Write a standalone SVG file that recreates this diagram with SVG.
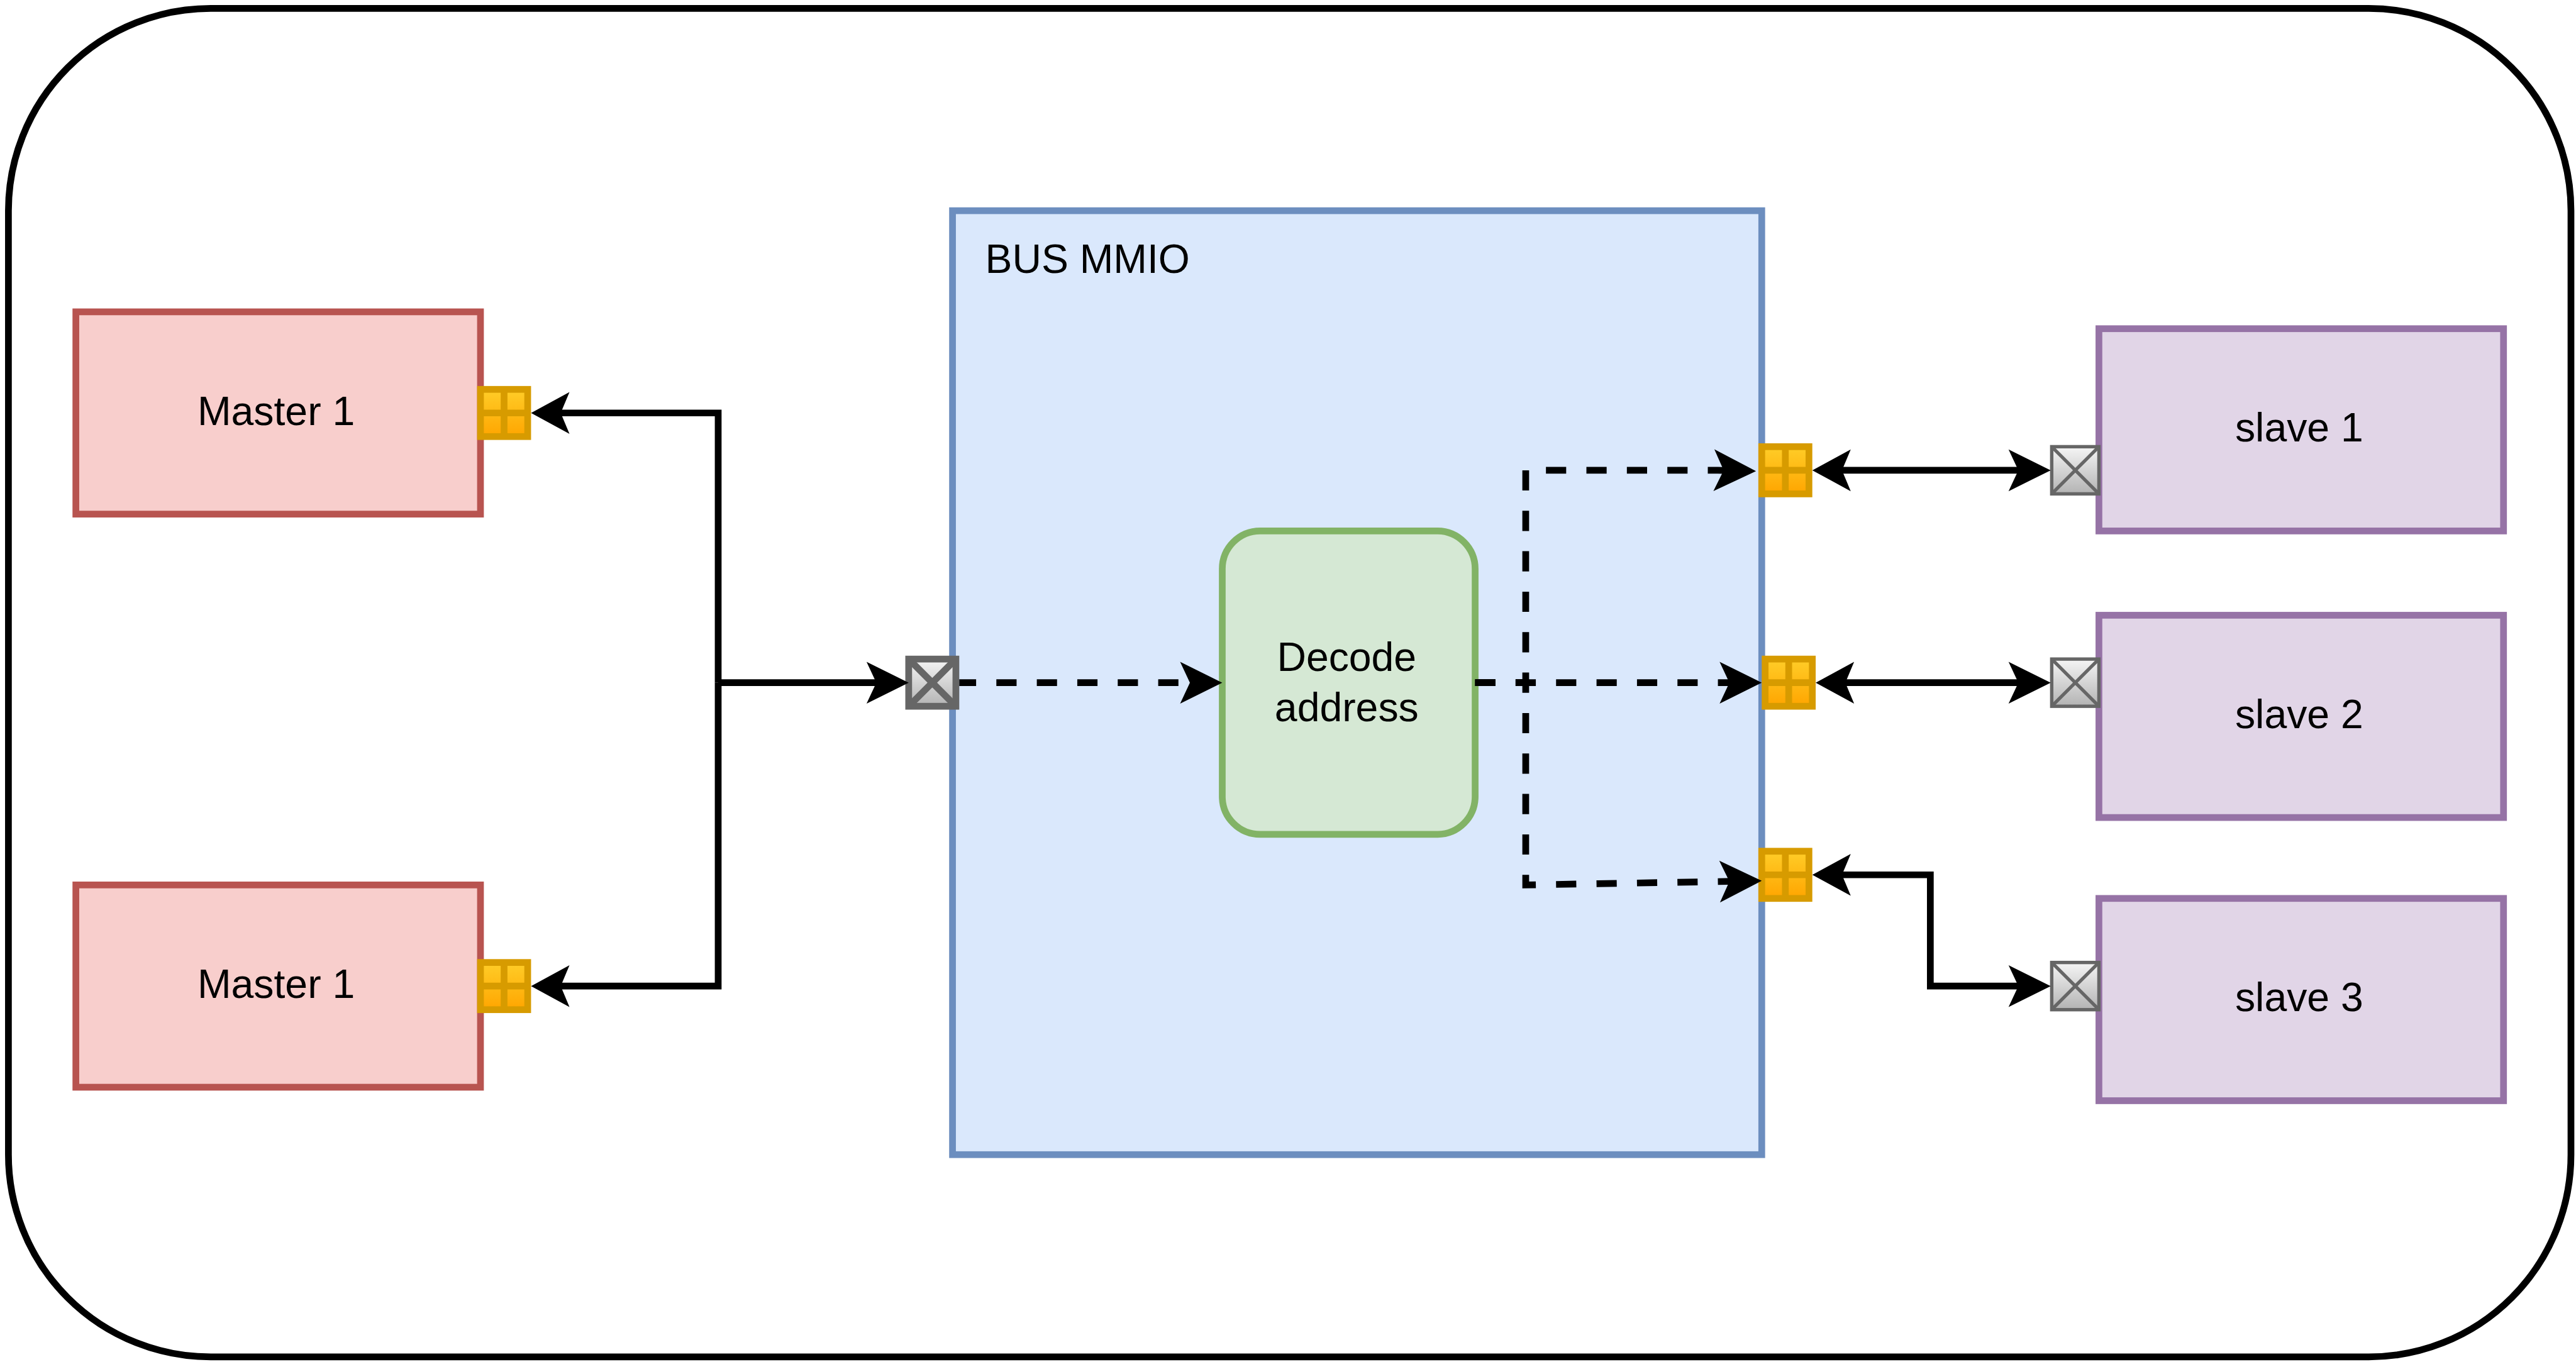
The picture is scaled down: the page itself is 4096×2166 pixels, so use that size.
<svg xmlns="http://www.w3.org/2000/svg" width="4096" height="2166" viewBox="0 0 4096 2166">
<style>
.outer{fill:#ffffff;stroke:#000000;stroke-width:20}
.master{fill:#f8cecc;stroke:#b85450;stroke-width:20}
.slave{fill:#e1d5e7;stroke:#9673a6;stroke-width:20}
.bus{fill:#dae8fc;stroke:#6c8ebf;stroke-width:20}
.decode{fill:#d5e8d4;stroke:#82b366;stroke-width:20}
.po{fill:url(#gradOrange);stroke:#d79b00;stroke-width:20}
.pol{fill:none;stroke:#d79b00;stroke-width:20}
.px{fill:url(#gradGrey);stroke:#666666}
.pxl{fill:none;stroke:#666666}
.w20{stroke-width:20}
.w10{stroke-width:10}
.conn{fill:none;stroke:#000000;stroke-width:20;stroke-linejoin:miter}
.dash{stroke-dasharray:60 60}
.ctr{text-anchor:middle}
text{font-family:"Liberation Sans",Arial,sans-serif;font-size:120px;fill:#000000}
</style>
<defs>
<linearGradient id="gradOrange" x1="0" y1="0" x2="0" y2="1"><stop offset="0" stop-color="#ffcd28"/><stop offset="1" stop-color="#ffa500"/></linearGradient>
<linearGradient id="gradGrey" x1="0" y1="0" x2="0" y2="1"><stop offset="0" stop-color="#f5f5f5"/><stop offset="1" stop-color="#b3b3b3"/></linearGradient>
<marker id="arrowLong" markerUnits="userSpaceOnUse" markerWidth="125" markerHeight="124" refX="55" refY="62" orient="auto-start-reverse" overflow="visible"><polygon points="0,0 125,62 0,124 29,62" fill="#000000"/></marker>
<marker id="arrowShort" markerUnits="userSpaceOnUse" markerWidth="114" markerHeight="124" refX="44" refY="62" orient="auto-start-reverse" overflow="visible"><polygon points="0,0 114,62 0,124 26,62" fill="#000000"/></marker>
<g id="portOrange"><rect class="po" x="0" y="0" width="140" height="140"/><path class="pol" d="M70,0V140M0,70H140"/></g>
<g id="portCross"><rect class="px" x="0" y="0" width="140" height="140"/><path class="pxl" d="M0,0L140,140M140,0L0,140"/></g>
</defs>
<rect x="0" y="0" width="4096" height="2166" fill="#ffffff"/>
<g transform="scale(0.53613)">
<g id="frame"><rect class="outer" x="25" y="25" width="7600" height="4000" rx="600" ry="600"/></g>
<g id="bus"><rect class="bus" x="2825" y="625" width="2400" height="2800"/><text x="2922" y="810">BUS MMIO</text></g>
<g id="decode"><rect class="decode" x="3625" y="1575" width="750" height="900" rx="112.5" ry="112.5"/><text class="ctr" x="3994" y="1990">Decode</text><text class="ctr" x="3994" y="2140">address</text></g>
<g id="master1"><rect class="master" x="225" y="925" width="1200" height="600"/><text class="ctr" x="819" y="1260">Master 1</text></g>
<g id="master2"><rect class="master" x="225" y="2625" width="1200" height="600"/><text class="ctr" x="819" y="2960">Master 1</text></g>
<g id="slave1"><rect class="slave" x="6225" y="975" width="1200" height="600"/><text class="ctr" x="6819" y="1310">slave 1</text></g>
<g id="slave2"><rect class="slave" x="6225" y="1825" width="1200" height="600"/><text class="ctr" x="6819" y="2160">slave 2</text></g>
<g id="slave3"><rect class="slave" x="6225" y="2665" width="1200" height="600"/><text class="ctr" x="6819" y="3000">slave 3</text></g>
<g id="port-master1"><use href="#portOrange" x="1425" y="1155"/></g>
<g id="port-master2"><use href="#portOrange" x="1425" y="2855"/></g>
<g id="port-bus-in"><use href="#portCross" class="w20" x="2695" y="1955"/></g>
<g id="port-bus-out1"><use href="#portOrange" x="5225" y="1325"/></g>
<g id="port-bus-out2"><use href="#portOrange" x="5235" y="1955"/></g>
<g id="port-bus-out3"><use href="#portOrange" x="5225" y="2525"/></g>
<g id="port-slave1"><use href="#portCross" class="w10" x="6085" y="1325"/></g>
<g id="port-slave2"><use href="#portCross" class="w10" x="6085" y="1955"/></g>
<g id="port-slave3"><use href="#portCross" class="w10" x="6085" y="2855"/></g>
<g id="connectors">
<path class="conn" marker-start="url(#arrowShort)" d="M1645,1225H2130V2025"/>
<path class="conn" marker-start="url(#arrowShort)" d="M1645,2925H2130V2025"/>
<path class="conn" marker-end="url(#arrowLong)" d="M2130,2025H2625"/>
<path class="conn dash" stroke-dashoffset="10" marker-end="url(#arrowLong)" d="M2845,2025H3555"/>
<path class="conn dash" marker-end="url(#arrowLong)" d="M4375,2025H5155"/>
<path class="conn dash" marker-end="url(#arrowLong)" d="M4375,2025H4525V1395H5095L5138,1396"/>
<path class="conn dash" marker-end="url(#arrowLong)" d="M4375,2025H4525V2625L5155,2614"/>
<path class="conn" marker-start="url(#arrowShort)" marker-end="url(#arrowLong)" d="M5445,1395H6012"/>
<path class="conn" marker-start="url(#arrowShort)" marker-end="url(#arrowLong)" d="M5455,2025H6012"/>
<path class="conn" marker-start="url(#arrowShort)" marker-end="url(#arrowLong)" d="M5445,2595H5725V2925H6012"/>
</g>
</g>
</svg>
